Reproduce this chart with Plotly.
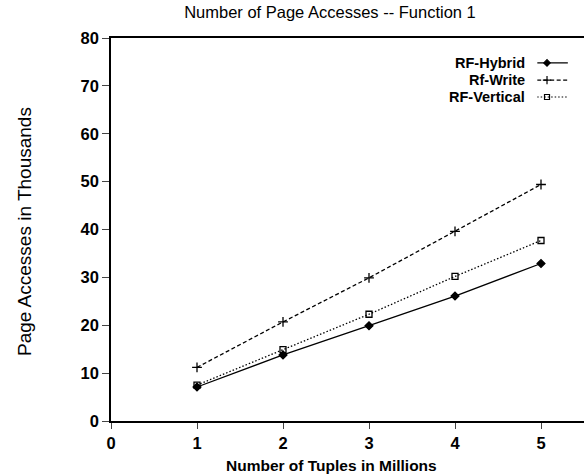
import plotly.graph_objects as go

# Number of tuples (millions) and page accesses (thousands) per scheme
tuples_millions = [1, 2, 3, 4, 5]
rf_hybrid = [7.1, 13.8, 19.9, 26.1, 32.9]
rf_write = [11.2, 20.7, 29.9, 39.6, 49.4]
rf_vertical = [7.5, 14.9, 22.3, 30.2, 37.7]

series_names = ["RF-Hybrid", "Rf-Write", "RF-Vertical"]
x_ticks = [0, 1, 2, 3, 4, 5]
y_ticks = [0, 10, 20, 30, 40, 50, 60, 70, 80]

FONT = "Liberation Sans, Arial, Helvetica, sans-serif"
BOLD = dict(family=FONT, weight="bold", color="black")

styles = [
    dict(dash="solid", symbol="diamond", size=6),
    dict(dash="4px,2.5px", symbol="cross-thin-open", size=7),
    dict(dash="1.5px,2px", symbol="square-open", size=6),
]

fig = go.Figure()
for name, vals, st in zip(series_names, [rf_hybrid, rf_write, rf_vertical], styles):
    fig.add_trace(go.Scatter(
        x=tuples_millions, y=vals, name=name, mode="lines+markers",
        line=dict(color="black", width=1.3, dash=st["dash"]),
        marker=dict(symbol=st["symbol"], size=st["size"], color="black",
                    line=dict(color="black", width=1.3)),
        showlegend=False,
    ))

# Legend: right-aligned labels followed by a short line sample drawn on
# a small auxiliary axis pair placed at the upper right of the plot
legend_y = [0.935, 0.890, 0.846]
for name, st, ly in zip(series_names, styles, legend_y):
    fig.add_annotation(xref="paper", yref="paper", x=0.877, y=ly,
                       text=name, showarrow=False, xanchor="right",
                       yanchor="middle", borderpad=0,
                       font=dict(size=14.5, **BOLD))
    fig.add_trace(go.Scatter(
        x=[0.0, 1.0], y=[ly, ly], xaxis="x2", yaxis="y2",
        mode="lines", line=dict(color="black", width=1.2, dash=st["dash"]),
        showlegend=False, hoverinfo="skip",
    ))
    fig.add_trace(go.Scatter(
        x=[0.32], y=[ly], xaxis="x2", yaxis="y2", mode="markers",
        marker=dict(symbol=st["symbol"], size=st["size"] - 1, color="black",
                    line=dict(color="black", width=1.2)),
        showlegend=False, hoverinfo="skip",
    ))

fig.update_layout(
    width=584, height=475,
    margin=dict(l=111, r=0, t=38, b=54),
    paper_bgcolor="white", plot_bgcolor="rgba(0,0,0,0)",
    font=dict(family=FONT, color="black", size=14),
    title=dict(text="Number of Page Accesses -- Function 1", x=0.565, xanchor="center",
               y=0.974, yanchor="middle", font=dict(size=16.5, family=FONT)),
    xaxis=dict(range=[0, 5.5], tickvals=x_ticks, ticks="outside", ticklen=6,
               tickwidth=1, showgrid=False, zeroline=False, showline=True,
               linecolor="black", linewidth=1.5, mirror=True,
               tickfont=dict(size=16.5, **BOLD)),
    yaxis=dict(range=[0, 80], tickvals=y_ticks, ticks="outside", ticklen=7,
               tickwidth=1, showgrid=False, zeroline=False, showline=True,
               linecolor="black", linewidth=1.5, tickfont=dict(size=16.5, **BOLD)),
    xaxis2=dict(domain=[0.901, 0.966], range=[0, 1], visible=False, anchor="y2",
                fixedrange=True),
    yaxis2=dict(domain=[0, 1], range=[0, 1], visible=False, anchor="x2",
                fixedrange=True),
)

fig.add_annotation(xref="paper", yref="paper", x=0.466, y=-0.115,
                   text="Number of Tuples in Millions", showarrow=False,
                   xanchor="center", yanchor="middle", font=dict(size=15.5, **BOLD))
fig.add_annotation(xref="paper", yref="paper", x=-0.184, y=0.496,
                   text="Page Accesses in Thousands", showarrow=False, textangle=-90,
                   xanchor="center", yanchor="middle", font=dict(size=19, family=FONT))

fig.write_html("out.html")
